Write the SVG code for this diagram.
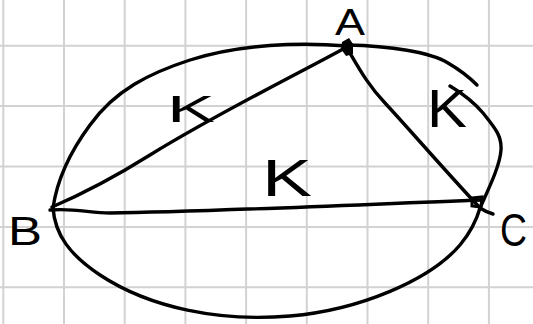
<svg xmlns="http://www.w3.org/2000/svg" width="533" height="324" viewBox="0 0 533 324">
<style>
.grid line{stroke:#d2d2d2;stroke-width:2}
.ink{fill:none;stroke:#000;stroke-width:3.4;stroke-linecap:round;stroke-linejoin:round}
.lbl{font-family:"Liberation Sans",Arial,sans-serif;fill:#000}
</style>
<rect width="533" height="324" fill="#fff"/>
<g class="grid">
<line x1="3.3" y1="0" x2="3.3" y2="324"/>
<line x1="64" y1="0" x2="64" y2="324"/>
<line x1="124.7" y1="0" x2="124.7" y2="324"/>
<line x1="185.4" y1="0" x2="185.4" y2="324"/>
<line x1="246.1" y1="0" x2="246.1" y2="324"/>
<line x1="306.8" y1="0" x2="306.8" y2="324"/>
<line x1="367.5" y1="0" x2="367.5" y2="324"/>
<line x1="428.2" y1="0" x2="428.2" y2="324"/>
<line x1="488.9" y1="0" x2="488.9" y2="324"/>
<line x1="0" y1="45.7" x2="533" y2="45.7"/>
<line x1="0" y1="106.1" x2="533" y2="106.1"/>
<line x1="0" y1="166.5" x2="533" y2="166.5"/>
<line x1="0" y1="226.9" x2="533" y2="226.9"/>
<line x1="0" y1="287.3" x2="533" y2="287.3"/>
</g>
<g id="connectors" class="ink">
<path id="ellipse-top-left" d="M347,46 C300,42 240,44 190,60 C150,73 115,90 90,125 C70,152 57,180 53,208"/>
<path id="ellipse-bottom-right" d="M53,208 C55,235 70,255 100,275 C150,308 220,322 290,316 C360,310 430,280 460,245 C470,233 476,222 480,208 C488,190 500,166 501,150 C502,136 495,128 483,113 C472,100 460,92 450,86"/>
<path id="ellipse-top-right" d="M347,45 C390,46 430,52 448,63 C460,70 470,78 477,85"/>
<path id="edge-AB" d="M52,207 C80,195 110,180 150,155 C220,112 290,78 345,48"/>
<path id="edge-BC" d="M50,210 C75,208 90,213 110,213 C200,212 350,205 482,200"/>
<path id="edge-AC" d="M347,48 C360,70 368,85 385,103 C410,130 440,165 480,208 Q486,212 493,214"/>
<text class="lbl" x="167" y="122" font-size="36" textLength="48" lengthAdjust="spacingAndGlyphs" style="stroke:none">K</text>
<text class="lbl" x="262" y="196" font-size="52" textLength="50" lengthAdjust="spacingAndGlyphs" style="stroke:none">K</text>
<text class="lbl" x="427" y="127" font-size="54" textLength="40" lengthAdjust="spacingAndGlyphs" style="stroke:none">K</text>
</g>
<g id="node-A">
<path d="M342,42 L349,38 L353,44 L353,54 L346,56 L341,49 Z" fill="#000"/>
<text class="lbl" x="335" y="35" font-size="36" textLength="30" lengthAdjust="spacingAndGlyphs">A</text>
</g>
<g id="node-B">
<text class="lbl" x="8" y="245" font-size="40" textLength="34" lengthAdjust="spacingAndGlyphs">B</text>
</g>
<g id="node-C">
<path d="M472,198 L482,197 L481,207 L472,206 Z" fill="none" stroke="#000" stroke-width="3"/>
<text class="lbl" x="500" y="246" font-size="46" textLength="27" lengthAdjust="spacingAndGlyphs">C</text>
</g>
</svg>
